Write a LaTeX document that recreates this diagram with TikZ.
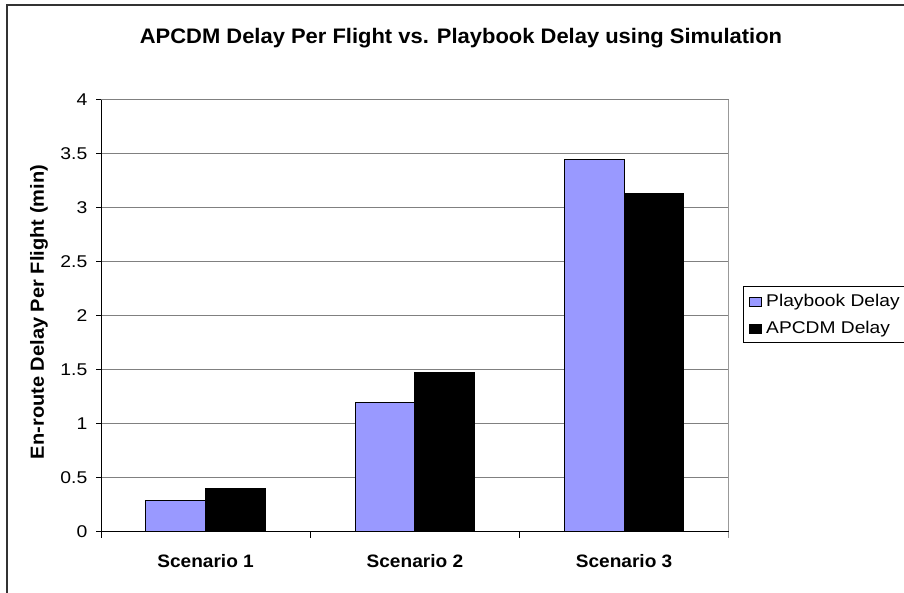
\documentclass[tikz,border=0pt]{standalone}
\usepackage{fontspec}
\setmainfont{Liberation Sans}
\definecolor{pbfill}{HTML}{9999FF}
\definecolor{gridc}{HTML}{808080}
\definecolor{framec}{HTML}{333333}
\newcommand\hsc[2]{\scalebox{#1}[1]{#2}}
\begin{document}
\begin{tikzpicture}[x=1pt,y=-1pt,
  gridline/.style={draw=gridc,line width=1pt},
  axisline/.style={draw=black,line width=1pt},
  barbox/.style={draw=black,line width=0.9pt},
  ticklab/.style={anchor=base east,inner sep=0pt,font=\fontsize{17}{20}\selectfont},
  catlab/.style={anchor=base,inner sep=0pt,font=\bfseries\fontsize{18}{21}\selectfont},
  leglab/.style={anchor=base west,inner sep=0pt,font=\fontsize{17}{20}\selectfont}]
\useasboundingbox (0,0) rectangle (904,593);
\fill[white] (0,0) rectangle (904,593);
% outer frame
\draw[draw=framec,line width=1.3pt] (7,600) -- (7,5) -- (910,5);
% title
\node[anchor=base,inner sep=0pt,font=\bfseries\fontsize{21}{24}\selectfont] (title) at (461,44) {\hsc{1.045}{APCDM Delay Per Flight vs. Playbook Delay using Simulation}};
% grid lines
\foreach \v in {0.5,1,...,4.0} {
  \draw[gridline] (101,531.7-108*\v) -- (728.7,531.7-108*\v);
}
% right border
\draw[draw=gridc!80,line width=1pt] (728.7,99.7) -- (728.7,537.5);
% bars
\foreach \c/\p/\a in {205.6/0.293/0.40, 414.9/1.20/1.475, 624.1/3.445/3.135} {
  \draw[barbox,fill=pbfill] (\c-59.8,531.7) rectangle (\c,531.7-108*\p);
  \draw[barbox,fill=black] (\c,531.7) rectangle (\c+59.8,531.7-108*\a);
}
% axes
\draw[axisline] (101,531.7) -- (728.7,531.7);
\draw[axisline] (101,99.7) -- (101,537.5);
\foreach \v in {0,0.5,...,4.0} {
  \draw[axisline] (96,531.7-108*\v) -- (101,531.7-108*\v);
}
\foreach \x in {310.2,519.5} {
  \draw[axisline] (\x,531.7) -- (\x,537.5);
}
% tick labels
\node[ticklab] (t0) at (87.5,531.7+6) {\hsc{1.14}{0}};
\node[ticklab] (t05) at (87.5,477.7+6) {\hsc{1.14}{0.5}};
\node[ticklab] (t1) at (87.5,423.7+6) {\hsc{1.14}{1}};
\node[ticklab] (t15) at (87.5,369.7+6) {\hsc{1.14}{1.5}};
\node[ticklab] (t2) at (87.5,315.7+6) {\hsc{1.14}{2}};
\node[ticklab] (t25) at (87.5,261.7+6) {\hsc{1.14}{2.5}};
\node[ticklab] (t3) at (87.5,207.7+6) {\hsc{1.14}{3}};
\node[ticklab] (t35) at (87.5,153.7+6) {\hsc{1.14}{3.5}};
\node[ticklab] (t4) at (87.5,99.7+6) {\hsc{1.14}{4}};
% axis title
\node[rotate=90,inner sep=0pt,font=\bfseries\fontsize{19}{22}\selectfont] (ylab) at (39,312) {\hsc{1.055}{En-route Delay Per Flight (min)}};
% category labels
\node[catlab] (s1) at (205.6,567) {\hsc{1.06}{Scenario 1}};
\node[catlab] (s2) at (414.9,567) {\hsc{1.06}{Scenario 2}};
\node[catlab] (s3) at (624.1,567) {\hsc{1.06}{Scenario 3}};
% legend
\draw[draw=black,line width=0.9pt] (743.3,286.7) rectangle (912,342.7);
\draw[barbox,fill=pbfill] (749.5,297.3) rectangle (761.5,306.3);
\draw[barbox,fill=black] (749.5,324) rectangle (761.5,333);
\node[leglab] (l1) at (766,306.3) {\hsc{1.13}{Playbook Delay}};
\node[leglab] (l2) at (766,333.5) {\hsc{1.13}{APCDM Delay}};
\end{tikzpicture}
\end{document}
